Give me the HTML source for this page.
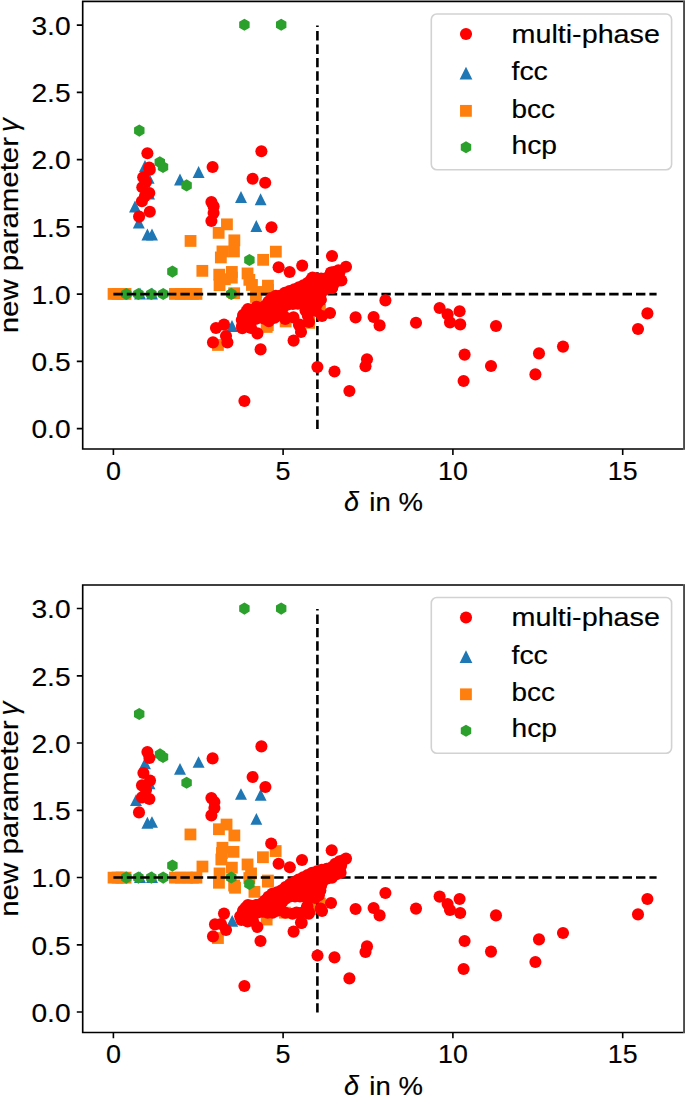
<!DOCTYPE html>
<html><head><meta charset="utf-8"><style>
html,body{margin:0;padding:0;background:#fff;}
svg{display:block;}
text{font-family:"Liberation Sans",sans-serif;font-size:26px;fill:#000;stroke:#000;stroke-width:0.15px;}
</style></head><body>
<svg width="685" height="1095" viewBox="0 0 685 1095">
<rect width="685" height="1095" fill="#fff"/>
<g transform="translate(0,0)">
<path d="M76.8,428.6H82.7M76.8,361.4H82.7M76.8,294.1H82.7M76.8,226.9H82.7M76.8,159.6H82.7M76.8,92.4H82.7M76.8,25.1H82.7M113.4,449.0V454.9M283.1,449.0V454.9M452.9,449.0V454.9M622.7,449.0V454.9" stroke="#000" stroke-width="1.6" fill="none"/>
<text x="70.6" y="438.3" text-anchor="end" font-size="27" textLength="39.2" lengthAdjust="spacingAndGlyphs">0.0</text>
<text x="70.6" y="371.1" text-anchor="end" font-size="27" textLength="39.2" lengthAdjust="spacingAndGlyphs">0.5</text>
<text x="70.6" y="303.8" text-anchor="end" font-size="27" textLength="39.2" lengthAdjust="spacingAndGlyphs">1.0</text>
<text x="70.6" y="236.6" text-anchor="end" font-size="27" textLength="39.2" lengthAdjust="spacingAndGlyphs">1.5</text>
<text x="70.6" y="169.3" text-anchor="end" font-size="27" textLength="39.2" lengthAdjust="spacingAndGlyphs">2.0</text>
<text x="70.6" y="102.1" text-anchor="end" font-size="27" textLength="39.2" lengthAdjust="spacingAndGlyphs">2.5</text>
<text x="70.6" y="34.8" text-anchor="end" font-size="27" textLength="39.2" lengthAdjust="spacingAndGlyphs">3.0</text>
<text x="105.9" y="479.7" font-size="27" textLength="15.0" lengthAdjust="spacingAndGlyphs">0</text>
<text x="275.6" y="479.7" font-size="27" textLength="15.0" lengthAdjust="spacingAndGlyphs">5</text>
<text x="438.0" y="479.7" font-size="27" textLength="29.8" lengthAdjust="spacingAndGlyphs">10</text>
<text x="607.8" y="479.7" font-size="27" textLength="29.8" lengthAdjust="spacingAndGlyphs">15</text>
<text x="344.0" y="511.3"><tspan font-style="italic" font-size="27">δ</tspan><tspan dx="2.7" textLength="61.2" lengthAdjust="spacingAndGlyphs"> in %</tspan></text>
<text transform="translate(17.8,333.3) rotate(-90)" x="0" y="0"><tspan textLength="204.5" lengthAdjust="spacingAndGlyphs">new parameter </tspan><tspan font-style="italic" font-size="27.5" dx="-3.2">γ</tspan></text>
</g>
<g transform="translate(0,0)">
<g fill="#1f77b4" stroke="#1f77b4" stroke-width="1.7" stroke-linejoin="miter"><path d="M145.0,161.9L140.4,171.1L149.6,171.1Z"/><path d="M148.7,173.8L144.1,182.9L153.2,182.9Z"/><path d="M149.0,189.4L144.4,198.6L153.6,198.6Z"/><path d="M135.0,202.4L130.4,211.6L139.6,211.6Z"/><path d="M138.8,218.4L134.2,227.6L143.4,227.6Z"/><path d="M147.4,230.4L142.8,239.6L152.0,239.6Z"/><path d="M152.0,230.4L147.4,239.6L156.6,239.6Z"/><path d="M180.0,175.4L175.4,184.6L184.6,184.6Z"/><path d="M198.6,167.9L194.0,177.1L203.2,177.1Z"/><path d="M241.0,192.9L236.4,202.1L245.6,202.1Z"/><path d="M260.6,195.2L256.1,204.4L265.2,204.4Z"/><path d="M256.3,221.9L251.8,231.1L260.9,231.1Z"/><path d="M232.0,321.9L227.4,331.1L236.6,331.1Z"/><path d="M140.0,289.4L135.4,298.6L144.6,298.6Z"/><path d="M152.0,289.4L147.4,298.6L156.6,298.6Z"/></g>
<g fill="#ff7f0e" stroke="#ff7f0e" stroke-width="1.7"><rect x="108.5" y="288.9" width="10.1" height="10.1"/><rect x="112.5" y="288.9" width="10.1" height="10.1"/><rect x="116.5" y="288.9" width="10.1" height="10.1"/><rect x="120.5" y="288.9" width="10.1" height="10.1"/><rect x="169.9" y="288.9" width="10.1" height="10.1"/><rect x="175.9" y="288.9" width="10.1" height="10.1"/><rect x="181.9" y="288.9" width="10.1" height="10.1"/><rect x="187.9" y="288.9" width="10.1" height="10.1"/><rect x="191.4" y="288.9" width="10.1" height="10.1"/><rect x="185.5" y="235.9" width="10.1" height="10.1"/><rect x="197.3" y="265.8" width="10.1" height="10.1"/><rect x="221.9" y="219.3" width="10.1" height="10.1"/><rect x="213.6" y="227.8" width="10.1" height="10.1"/><rect x="229.3" y="235.3" width="10.1" height="10.1"/><rect x="217.4" y="246.4" width="10.1" height="10.1"/><rect x="228.9" y="246.4" width="10.1" height="10.1"/><rect x="215.8" y="252.4" width="10.1" height="10.1"/><rect x="258.1" y="254.8" width="10.1" height="10.1"/><rect x="270.8" y="246.6" width="10.1" height="10.1"/><rect x="214.2" y="269.6" width="10.1" height="10.1"/><rect x="226.8" y="266.9" width="10.1" height="10.1"/><rect x="214.5" y="280.1" width="10.1" height="10.1"/><rect x="219.8" y="274.2" width="10.1" height="10.1"/><rect x="226.8" y="272.6" width="10.1" height="10.1"/><rect x="242.5" y="268.4" width="10.1" height="10.1"/><rect x="244.3" y="274.8" width="10.1" height="10.1"/><rect x="246.9" y="279.9" width="10.1" height="10.1"/><rect x="251.3" y="286.9" width="10.1" height="10.1"/><rect x="262.9" y="280.6" width="10.1" height="10.1"/><rect x="262.9" y="284.9" width="10.1" height="10.1"/><rect x="229.1" y="288.2" width="10.1" height="10.1"/><rect x="212.9" y="339.9" width="10.1" height="10.1"/><rect x="261.6" y="321.9" width="10.1" height="10.1"/><rect x="280.6" y="316.4" width="10.1" height="10.1"/><rect x="304.1" y="317.8" width="10.1" height="10.1"/><rect x="314.9" y="304.9" width="10.1" height="10.1"/><rect x="262.8" y="320.1" width="10.1" height="10.1"/><rect x="250.9" y="291.9" width="10.1" height="10.1"/></g>
<g fill="#2ca02c" stroke="#2ca02c" stroke-width="1.7"><polygon points="139.30,125.55 134.93,128.07 134.93,133.12 139.30,135.65 143.67,133.12 143.67,128.07"/><polygon points="244.40,19.75 240.03,22.28 240.03,27.33 244.40,29.85 248.77,27.33 248.77,22.28"/><polygon points="281.20,19.75 276.83,22.28 276.83,27.33 281.20,29.85 285.57,27.33 285.57,22.28"/><polygon points="159.80,157.15 155.43,159.67 155.43,164.72 159.80,167.25 164.17,164.72 164.17,159.67"/><polygon points="163.00,161.95 158.63,164.47 158.63,169.53 163.00,172.05 167.37,169.53 167.37,164.47"/><polygon points="186.60,180.35 182.23,182.88 182.23,187.93 186.60,190.45 190.97,187.93 190.97,182.88"/><polygon points="172.40,266.55 168.03,269.08 168.03,274.12 172.40,276.65 176.77,274.12 176.77,269.08"/><polygon points="249.40,254.95 245.03,257.48 245.03,262.52 249.40,265.05 253.77,262.52 253.77,257.48"/><polygon points="231.30,288.85 226.93,291.38 226.93,296.42 231.30,298.95 235.67,296.42 235.67,291.38"/><polygon points="126.30,288.95 121.93,291.48 121.93,296.52 126.30,299.05 130.67,296.52 130.67,291.48"/><polygon points="138.40,288.95 134.03,291.48 134.03,296.52 138.40,299.05 142.77,296.52 142.77,291.48"/><polygon points="151.30,288.95 146.93,291.48 146.93,296.52 151.30,299.05 155.67,296.52 155.67,291.48"/><polygon points="163.20,288.95 158.83,291.48 158.83,296.52 163.20,299.05 167.57,296.52 167.57,291.48"/></g>
</g>
<g transform="translate(0,0)" stroke="#000" stroke-width="2.6" fill="none" stroke-dasharray="9.4 4.0">
<path d="M113.4,294.1H656.6"/>
<path d="M317.4,429.1V25.6"/>
</g>
<g transform="translate(0,0)" fill="#ff0000">
<polygon points="241.8,320.0 242.7,322.7 245.9,325.2 247.8,326.1 250.3,322.1 250.7,321.6 251.0,321.2 251.5,320.8 251.9,320.4 252.4,320.1 253.0,319.9 258.0,317.9 258.5,317.7 259.0,317.6 259.6,317.5 260.1,317.5 260.7,317.5 261.2,317.6 261.7,317.8 266.9,319.5 271.5,319.5 277.2,316.3 280.5,314.3 282.9,308.1 283.1,307.6 283.3,307.1 283.6,306.6 284.0,306.2 284.4,305.8 284.8,305.5 285.3,305.2 285.8,305.0 286.3,304.8 286.8,304.6 287.4,304.5 293.4,303.8 294.0,303.8 302.0,303.8 302.5,303.8 309.9,304.5 316.2,303.7 320.3,301.4 320.7,300.3 320.3,296.5 320.3,296.0 320.3,295.5 320.4,295.0 320.5,294.5 320.7,294.0 320.9,293.5 321.2,293.0 321.5,292.6 321.8,292.2 323.8,290.1 324.2,289.7 324.7,289.4 325.1,289.1 325.6,288.8 326.2,288.7 326.7,288.5 327.2,288.4 327.8,288.4 331.1,288.4 332.1,287.6 332.7,285.5 332.8,285.0 333.0,284.5 333.2,284.1 333.5,283.6 333.8,283.2 334.2,282.8 334.6,282.5 335.0,282.2 335.4,281.9 335.9,281.7 339.4,280.3 339.8,279.7 338.9,275.8 338.8,275.3 338.7,274.7 338.7,274.2 338.8,273.7 338.9,273.2 339.0,272.6 339.2,272.1 339.5,271.7 339.8,271.2 340.1,270.8 340.5,270.4 340.9,270.1 341.2,269.9 336.7,270.6 332.2,272.8 328.8,276.7 328.4,277.0 328.1,277.4 327.6,277.7 327.2,277.9 326.7,278.1 326.2,278.3 325.7,278.4 325.2,278.5 324.7,278.5 318.6,278.5 318.2,278.5 313.6,278.1 311.6,279.0 308.2,282.5 307.8,282.9 307.3,283.2 306.8,283.5 298.6,287.6 298.1,287.8 291.3,290.4 291.1,290.5 285.7,292.3 282.2,294.8 281.8,295.2 281.2,295.4 280.7,295.6 280.1,295.8 279.6,295.9 279.0,295.9 275.1,295.9 272.2,297.1 269.0,301.0 265.0,306.1 264.7,306.5 264.3,306.9 263.8,307.2 263.4,307.5 262.9,307.8 262.3,308.0 261.8,308.1 261.3,308.2 260.7,308.2 256.3,308.2 250.2,309.9 245.1,312.1 243.3,315.2 241.8,320.0"/>
<circle cx="241.8" cy="320.0" r="6.05"/>
<circle cx="244.3" cy="324.0" r="6.05"/>
<circle cx="248.3" cy="325.3" r="6.05"/>
<circle cx="251.1" cy="321.1" r="6.05"/>
<circle cx="255.5" cy="318.9" r="6.05"/>
<circle cx="260.3" cy="317.5" r="6.05"/>
<circle cx="265.1" cy="318.9" r="6.05"/>
<circle cx="270.0" cy="319.5" r="6.05"/>
<circle cx="274.6" cy="317.8" r="6.05"/>
<circle cx="278.9" cy="315.2" r="6.05"/>
<circle cx="281.6" cy="311.3" r="6.05"/>
<circle cx="283.6" cy="306.7" r="6.05"/>
<circle cx="287.9" cy="304.5" r="6.05"/>
<circle cx="292.9" cy="303.9" r="6.05"/>
<circle cx="297.9" cy="303.8" r="6.05"/>
<circle cx="302.9" cy="303.9" r="6.05"/>
<circle cx="307.9" cy="304.3" r="6.05"/>
<circle cx="312.9" cy="304.1" r="6.05"/>
<circle cx="317.7" cy="302.9" r="6.05"/>
<circle cx="320.6" cy="299.4" r="6.05"/>
<circle cx="320.5" cy="294.5" r="6.05"/>
<circle cx="323.5" cy="290.5" r="6.05"/>
<circle cx="327.9" cy="288.4" r="6.05"/>
<circle cx="332.3" cy="287.2" r="6.05"/>
<circle cx="334.3" cy="282.7" r="6.05"/>
<circle cx="338.8" cy="280.5" r="6.05"/>
<circle cx="338.9" cy="276.1" r="6.05"/>
<circle cx="339.7" cy="271.3" r="6.05"/>
<circle cx="338.4" cy="270.3" r="6.05"/>
<circle cx="333.7" cy="272.1" r="6.05"/>
<circle cx="330.0" cy="275.3" r="6.05"/>
<circle cx="326.1" cy="278.3" r="6.05"/>
<circle cx="321.1" cy="278.5" r="6.05"/>
<circle cx="316.1" cy="278.3" r="6.05"/>
<circle cx="311.4" cy="279.3" r="6.05"/>
<circle cx="307.8" cy="282.8" r="6.05"/>
<circle cx="303.4" cy="285.2" r="6.05"/>
<circle cx="298.9" cy="287.4" r="6.05"/>
<circle cx="294.3" cy="289.3" r="6.05"/>
<circle cx="289.5" cy="291.0" r="6.05"/>
<circle cx="284.9" cy="292.9" r="6.05"/>
<circle cx="280.7" cy="295.6" r="6.05"/>
<circle cx="275.8" cy="295.9" r="6.05"/>
<circle cx="271.4" cy="298.0" r="6.05"/>
<circle cx="268.3" cy="301.9" r="6.05"/>
<circle cx="265.2" cy="305.9" r="6.05"/>
<circle cx="260.9" cy="308.2" r="6.05"/>
<circle cx="255.9" cy="308.3" r="6.05"/>
<circle cx="251.1" cy="309.7" r="6.05"/>
<circle cx="246.4" cy="311.5" r="6.05"/>
<circle cx="243.3" cy="315.2" r="6.05"/>
<circle cx="147.4" cy="153.3" r="6.05"/><circle cx="149.2" cy="167.6" r="6.05"/><circle cx="149.8" cy="169.8" r="6.05"/><circle cx="143.2" cy="177.2" r="6.05"/><circle cx="142.3" cy="187.3" r="6.05"/><circle cx="149.3" cy="193.0" r="6.05"/><circle cx="141.9" cy="201.3" r="6.05"/><circle cx="149.8" cy="211.8" r="6.05"/><circle cx="139.1" cy="216.6" r="6.05"/><circle cx="146.0" cy="182.0" r="6.05"/><circle cx="145.0" cy="196.0" r="6.05"/><circle cx="212.6" cy="167.0" r="6.05"/><circle cx="211.4" cy="202.0" r="6.05"/><circle cx="213.6" cy="206.4" r="6.05"/><circle cx="213.6" cy="213.0" r="6.05"/><circle cx="211.4" cy="221.0" r="6.05"/><circle cx="261.4" cy="151.2" r="6.05"/><circle cx="252.6" cy="178.8" r="6.05"/><circle cx="265.2" cy="182.8" r="6.05"/><circle cx="271.5" cy="227.3" r="6.05"/><circle cx="278.6" cy="267.3" r="6.05"/><circle cx="289.6" cy="272.0" r="6.05"/><circle cx="302.2" cy="265.6" r="6.05"/><circle cx="332.0" cy="256.0" r="6.05"/><circle cx="346.0" cy="266.8" r="6.05"/><circle cx="341.4" cy="280.5" r="6.05"/><circle cx="332.0" cy="288.1" r="6.05"/><circle cx="312.5" cy="277.6" r="6.05"/><circle cx="330.9" cy="272.5" r="6.05"/><circle cx="320.7" cy="300.0" r="6.05"/><circle cx="216.0" cy="328.0" r="6.05"/><circle cx="224.0" cy="324.6" r="6.05"/><circle cx="226.0" cy="336.0" r="6.05"/><circle cx="227.4" cy="342.4" r="6.05"/><circle cx="213.0" cy="342.4" r="6.05"/><circle cx="242.0" cy="326.0" r="6.05"/><circle cx="244.0" cy="315.0" r="6.05"/><circle cx="248.0" cy="309.0" r="6.05"/><circle cx="251.0" cy="328.0" r="6.05"/><circle cx="257.4" cy="333.4" r="6.05"/><circle cx="260.6" cy="349.4" r="6.05"/><circle cx="242.3" cy="328.2" r="6.05"/><circle cx="250.4" cy="327.2" r="6.05"/><circle cx="268.8" cy="321.1" r="6.05"/><circle cx="247.9" cy="310.4" r="6.05"/><circle cx="256.6" cy="306.8" r="6.05"/><circle cx="243.3" cy="315.0" r="6.05"/><circle cx="293.6" cy="340.6" r="6.05"/><circle cx="301.0" cy="332.0" r="6.05"/><circle cx="299.0" cy="325.0" r="6.05"/><circle cx="309.0" cy="322.0" r="6.05"/><circle cx="322.0" cy="316.0" r="6.05"/><circle cx="330.0" cy="313.0" r="6.05"/><circle cx="317.4" cy="367.0" r="6.05"/><circle cx="285.3" cy="317.4" r="6.05"/><circle cx="293.5" cy="317.4" r="6.05"/><circle cx="305.5" cy="310.5" r="6.05"/><circle cx="311.0" cy="309.5" r="6.05"/><circle cx="316.0" cy="311.0" r="6.05"/><circle cx="299.6" cy="324.6" r="6.05"/><circle cx="307.8" cy="315.4" r="6.05"/><circle cx="285.2" cy="319.0" r="6.05"/><circle cx="385.4" cy="300.4" r="6.05"/><circle cx="355.6" cy="317.4" r="6.05"/><circle cx="373.6" cy="317.0" r="6.05"/><circle cx="379.6" cy="325.4" r="6.05"/><circle cx="416.0" cy="322.8" r="6.05"/><circle cx="439.6" cy="308.0" r="6.05"/><circle cx="447.6" cy="314.4" r="6.05"/><circle cx="450.0" cy="322.4" r="6.05"/><circle cx="459.6" cy="311.2" r="6.05"/><circle cx="460.2" cy="324.4" r="6.05"/><circle cx="367.0" cy="359.2" r="6.05"/><circle cx="365.5" cy="366.2" r="6.05"/><circle cx="334.5" cy="371.5" r="6.05"/><circle cx="464.6" cy="354.6" r="6.05"/><circle cx="463.6" cy="381.0" r="6.05"/><circle cx="496.0" cy="326.0" r="6.05"/><circle cx="491.0" cy="366.0" r="6.05"/><circle cx="539.0" cy="353.4" r="6.05"/><circle cx="563.0" cy="346.6" r="6.05"/><circle cx="535.4" cy="374.4" r="6.05"/><circle cx="638.0" cy="329.0" r="6.05"/><circle cx="647.4" cy="313.4" r="6.05"/><circle cx="349.4" cy="391.0" r="6.05"/><circle cx="244.4" cy="401.0" r="6.05"/>
</g>
<path d="M82.7,1.50H683.3M82.7,0.70V449.80M81.90,449.00H683.3" fill="none" stroke="#000" stroke-width="1.65"/><rect x="683.1" y="0.70" width="2" height="449.10" fill="#4a4a4a"/><rect x="82" y="0" width="603" height="0.8" fill="#808080"/>
<g transform="translate(0,0)">
<rect x="431.3" y="14.0" width="240.3" height="155.8" rx="5.5" fill="#fff" fill-opacity="0.8" stroke="#d2d2d2" stroke-width="1.6"/>
<g fill="#ff0000"><circle cx="466.0" cy="34.0" r="6.05"/></g>
<g fill="#1f77b4" stroke="#1f77b4" stroke-width="1.7"><path d="M466.0,68.7L461.0,78.7L471.0,78.7Z"/></g>
<g fill="#ff7f0e" stroke="#ff7f0e" stroke-width="1.7"><rect x="460.9" y="105.8" width="10.1" height="10.1"/></g>
<g fill="#2ca02c" stroke="#2ca02c" stroke-width="1.7"><polygon points="466.00,142.25 461.63,144.78 461.63,149.83 466.00,152.35 470.37,149.83 470.37,144.78"/></g>
<text x="511.5" y="42.9" textLength="148.4" lengthAdjust="spacingAndGlyphs">multi-phase</text>
<text x="511.5" y="80.4" textLength="36.3" lengthAdjust="spacingAndGlyphs">fcc</text>
<text x="511.5" y="117.6" textLength="43.4" lengthAdjust="spacingAndGlyphs">bcc</text>
<text x="511.5" y="154.0" textLength="45.5" lengthAdjust="spacingAndGlyphs">hcp</text>
</g>
<g transform="translate(0,583.45)">
<path d="M76.8,428.6H82.7M76.8,361.4H82.7M76.8,294.1H82.7M76.8,226.9H82.7M76.8,159.6H82.7M76.8,92.4H82.7M76.8,25.1H82.7M113.4,449.0V454.9M283.1,449.0V454.9M452.9,449.0V454.9M622.7,449.0V454.9" stroke="#000" stroke-width="1.6" fill="none"/>
<text x="70.6" y="438.3" text-anchor="end" font-size="27" textLength="39.2" lengthAdjust="spacingAndGlyphs">0.0</text>
<text x="70.6" y="371.1" text-anchor="end" font-size="27" textLength="39.2" lengthAdjust="spacingAndGlyphs">0.5</text>
<text x="70.6" y="303.8" text-anchor="end" font-size="27" textLength="39.2" lengthAdjust="spacingAndGlyphs">1.0</text>
<text x="70.6" y="236.6" text-anchor="end" font-size="27" textLength="39.2" lengthAdjust="spacingAndGlyphs">1.5</text>
<text x="70.6" y="169.3" text-anchor="end" font-size="27" textLength="39.2" lengthAdjust="spacingAndGlyphs">2.0</text>
<text x="70.6" y="102.1" text-anchor="end" font-size="27" textLength="39.2" lengthAdjust="spacingAndGlyphs">2.5</text>
<text x="70.6" y="34.8" text-anchor="end" font-size="27" textLength="39.2" lengthAdjust="spacingAndGlyphs">3.0</text>
<text x="105.9" y="479.7" font-size="27" textLength="15.0" lengthAdjust="spacingAndGlyphs">0</text>
<text x="275.6" y="479.7" font-size="27" textLength="15.0" lengthAdjust="spacingAndGlyphs">5</text>
<text x="438.0" y="479.7" font-size="27" textLength="29.8" lengthAdjust="spacingAndGlyphs">10</text>
<text x="607.8" y="479.7" font-size="27" textLength="29.8" lengthAdjust="spacingAndGlyphs">15</text>
<text x="344.0" y="511.3"><tspan font-style="italic" font-size="27">δ</tspan><tspan dx="2.7" textLength="61.2" lengthAdjust="spacingAndGlyphs"> in %</tspan></text>
<text transform="translate(17.8,333.3) rotate(-90)" x="0" y="0"><tspan textLength="204.5" lengthAdjust="spacingAndGlyphs">new parameter </tspan><tspan font-style="italic" font-size="27.5" dx="-3.2">γ</tspan></text>
</g>
<g transform="translate(0,0)">
<g fill="#1f77b4" stroke="#1f77b4" stroke-width="1.7" stroke-linejoin="miter"><path d="M145.0,759.5L140.4,768.5L149.6,768.5Z"/><path d="M149.5,779.5L144.9,788.5L154.1,788.5Z"/><path d="M136.0,796.2L131.4,805.2L140.6,805.2Z"/><path d="M147.4,818.7L142.8,827.8L152.0,827.8Z"/><path d="M152.0,818.0L147.4,827.0L156.6,827.0Z"/><path d="M180.0,764.8L175.4,773.8L184.6,773.8Z"/><path d="M198.6,758.0L194.0,767.0L203.2,767.0Z"/><path d="M241.0,790.0L236.4,799.0L245.6,799.0Z"/><path d="M260.6,791.0L256.1,800.0L265.2,800.0Z"/><path d="M256.4,814.8L251.8,823.8L260.9,823.8Z"/><path d="M232.2,916.8L227.6,925.8L236.8,925.8Z"/><path d="M140.0,873.1L135.4,882.1L144.6,882.1Z"/><path d="M152.0,873.1L147.4,882.1L156.6,882.1Z"/></g>
<g fill="#ff7f0e" stroke="#ff7f0e" stroke-width="1.7"><rect x="108.5" y="872.6" width="10.1" height="10.1"/><rect x="112.5" y="872.6" width="10.1" height="10.1"/><rect x="116.5" y="872.6" width="10.1" height="10.1"/><rect x="120.5" y="872.6" width="10.1" height="10.1"/><rect x="169.9" y="872.6" width="10.1" height="10.1"/><rect x="175.9" y="872.6" width="10.1" height="10.1"/><rect x="181.9" y="872.6" width="10.1" height="10.1"/><rect x="187.9" y="872.6" width="10.1" height="10.1"/><rect x="191.4" y="872.6" width="10.1" height="10.1"/><rect x="185.4" y="829.4" width="10.1" height="10.1"/><rect x="197.4" y="861.5" width="10.1" height="10.1"/><rect x="221.5" y="819.5" width="10.1" height="10.1"/><rect x="213.9" y="824.2" width="10.1" height="10.1"/><rect x="229.3" y="830.4" width="10.1" height="10.1"/><rect x="217.4" y="842.7" width="10.1" height="10.1"/><rect x="228.5" y="846.8" width="10.1" height="10.1"/><rect x="216.3" y="854.4" width="10.1" height="10.1"/><rect x="216.9" y="848.0" width="10.1" height="10.1"/><rect x="242.5" y="859.4" width="10.1" height="10.1"/><rect x="257.9" y="852.2" width="10.1" height="10.1"/><rect x="270.6" y="846.0" width="10.1" height="10.1"/><rect x="214.5" y="868.4" width="10.1" height="10.1"/><rect x="226.8" y="862.6" width="10.1" height="10.1"/><rect x="213.9" y="877.7" width="10.1" height="10.1"/><rect x="229.1" y="880.5" width="10.1" height="10.1"/><rect x="244.3" y="873.0" width="10.1" height="10.1"/><rect x="246.0" y="868.4" width="10.1" height="10.1"/><rect x="262.9" y="876.6" width="10.1" height="10.1"/><rect x="230.0" y="882.7" width="10.1" height="10.1"/><rect x="249.4" y="886.8" width="10.1" height="10.1"/><rect x="262.8" y="875.5" width="10.1" height="10.1"/><rect x="261.6" y="914.5" width="10.1" height="10.1"/><rect x="279.9" y="907.6" width="10.1" height="10.1"/><rect x="309.6" y="904.0" width="10.1" height="10.1"/><rect x="314.9" y="898.7" width="10.1" height="10.1"/><rect x="212.9" y="933.0" width="10.1" height="10.1"/></g>
<g fill="#2ca02c" stroke="#2ca02c" stroke-width="1.7"><polygon points="139.20,708.95 134.83,711.48 134.83,716.52 139.20,719.05 143.57,716.52 143.57,711.48"/><polygon points="244.40,603.55 240.03,606.08 240.03,611.12 244.40,613.65 248.77,611.12 248.77,606.08"/><polygon points="281.20,603.55 276.83,606.08 276.83,611.12 281.20,613.65 285.57,611.12 285.57,606.08"/><polygon points="160.00,749.35 155.63,751.88 155.63,756.92 160.00,759.45 164.37,756.92 164.37,751.88"/><polygon points="163.00,751.95 158.63,754.48 158.63,759.52 163.00,762.05 167.37,759.52 167.37,754.48"/><polygon points="186.60,777.75 182.23,780.27 182.23,785.32 186.60,787.85 190.97,785.32 190.97,780.27"/><polygon points="172.40,860.55 168.03,863.08 168.03,868.12 172.40,870.65 176.77,868.12 176.77,863.08"/><polygon points="231.30,872.45 226.93,874.98 226.93,880.02 231.30,882.55 235.67,880.02 235.67,874.98"/><polygon points="249.40,878.95 245.03,881.48 245.03,886.52 249.40,889.05 253.77,886.52 253.77,881.48"/><polygon points="126.30,872.55 121.93,875.08 121.93,880.12 126.30,882.65 130.67,880.12 130.67,875.08"/><polygon points="138.40,872.55 134.03,875.08 134.03,880.12 138.40,882.65 142.77,880.12 142.77,875.08"/><polygon points="151.30,872.55 146.93,875.08 146.93,880.12 151.30,882.65 155.67,880.12 155.67,875.08"/><polygon points="163.20,872.55 158.83,875.08 158.83,880.12 163.20,882.65 167.57,880.12 167.57,875.08"/></g>
</g>
<g transform="translate(0,583.45)" stroke="#000" stroke-width="2.6" fill="none" stroke-dasharray="9.4 4.0">
<path d="M113.4,294.1H656.6"/>
<path d="M317.4,429.1V25.6"/>
</g>
<g transform="translate(0,0)" fill="#ff0000">
<polygon points="243.0,910.9 244.5,911.0 245.1,911.1 245.7,911.3 250.9,913.0 255.8,913.0 260.1,911.7 260.7,911.6 261.2,911.5 261.8,911.5 262.3,911.5 262.8,911.6 269.2,913.0 273.5,912.6 278.6,910.0 280.9,904.1 281.1,903.5 281.4,903.0 281.7,902.5 282.1,902.1 286.1,898.1 286.5,897.7 286.9,897.4 287.4,897.1 287.9,896.9 288.4,896.7 288.9,896.6 289.5,896.5 290.0,896.5 302.0,896.5 302.5,896.5 302.9,896.6 310.9,897.9 316.3,897.9 317.8,897.1 319.5,894.2 320.4,890.1 321.4,884.1 321.5,883.6 321.6,883.1 321.8,882.6 322.1,882.2 322.4,881.8 322.7,881.4 323.0,881.0 323.4,880.7 323.8,880.4 324.3,880.1 328.4,878.0 328.9,877.8 333.5,876.0 337.4,873.6 340.1,870.3 341.8,862.3 342.0,861.8 342.2,861.3 342.4,860.8 342.7,860.3 343.1,859.8 343.1,859.8 341.0,860.4 336.2,862.9 332.7,866.4 332.3,866.7 331.9,867.0 331.5,867.3 331.1,867.5 330.6,867.7 330.1,867.8 324.0,869.3 318.1,870.8 312.5,872.7 306.8,875.6 306.7,875.6 298.7,879.6 294.1,882.3 293.7,882.4 288.1,885.2 284.4,888.0 280.3,891.1 279.9,891.4 279.5,891.6 279.0,891.8 278.5,892.0 278.1,892.1 273.7,893.0 271.1,894.2 266.6,898.8 266.5,898.8 262.4,902.8 262.1,903.2 261.6,903.5 261.2,903.7 260.7,904.0 260.3,904.1 259.8,904.3 254.7,905.4 254.4,905.4 248.9,906.3 245.7,907.6 243.0,910.9"/>
<circle cx="243.0" cy="910.9" r="6.05"/>
<circle cx="247.9" cy="912.0" r="6.05"/>
<circle cx="252.8" cy="913.0" r="6.05"/>
<circle cx="257.8" cy="912.4" r="6.05"/>
<circle cx="262.7" cy="911.6" r="6.05"/>
<circle cx="267.6" cy="912.6" r="6.05"/>
<circle cx="272.6" cy="912.7" r="6.05"/>
<circle cx="277.2" cy="910.7" r="6.05"/>
<circle cx="279.8" cy="906.8" r="6.05"/>
<circle cx="282.0" cy="902.2" r="6.05"/>
<circle cx="285.6" cy="898.7" r="6.05"/>
<circle cx="289.9" cy="896.5" r="6.05"/>
<circle cx="295.0" cy="896.5" r="6.05"/>
<circle cx="300.0" cy="896.5" r="6.05"/>
<circle cx="305.0" cy="896.9" r="6.05"/>
<circle cx="310.0" cy="897.8" r="6.05"/>
<circle cx="315.1" cy="897.9" r="6.05"/>
<circle cx="318.9" cy="895.3" r="6.05"/>
<circle cx="320.3" cy="890.5" r="6.05"/>
<circle cx="321.1" cy="885.5" r="6.05"/>
<circle cx="323.1" cy="881.0" r="6.05"/>
<circle cx="327.4" cy="878.5" r="6.05"/>
<circle cx="332.1" cy="876.5" r="6.05"/>
<circle cx="336.5" cy="874.1" r="6.05"/>
<circle cx="339.9" cy="870.5" r="6.05"/>
<circle cx="341.1" cy="865.6" r="6.05"/>
<circle cx="342.4" cy="860.8" r="6.05"/>
<circle cx="339.5" cy="861.2" r="6.05"/>
<circle cx="335.3" cy="863.8" r="6.05"/>
<circle cx="331.6" cy="867.2" r="6.05"/>
<circle cx="326.7" cy="868.7" r="6.05"/>
<circle cx="321.8" cy="869.9" r="6.05"/>
<circle cx="317.0" cy="871.2" r="6.05"/>
<circle cx="312.2" cy="872.8" r="6.05"/>
<circle cx="307.7" cy="875.1" r="6.05"/>
<circle cx="303.2" cy="877.4" r="6.05"/>
<circle cx="298.6" cy="879.6" r="6.05"/>
<circle cx="294.3" cy="882.1" r="6.05"/>
<circle cx="289.8" cy="884.4" r="6.05"/>
<circle cx="285.6" cy="887.1" r="6.05"/>
<circle cx="281.5" cy="890.2" r="6.05"/>
<circle cx="277.0" cy="892.3" r="6.05"/>
<circle cx="272.2" cy="893.7" r="6.05"/>
<circle cx="268.4" cy="896.9" r="6.05"/>
<circle cx="264.9" cy="900.5" r="6.05"/>
<circle cx="261.1" cy="903.8" r="6.05"/>
<circle cx="256.2" cy="905.0" r="6.05"/>
<circle cx="251.2" cy="905.9" r="6.05"/>
<circle cx="246.4" cy="907.3" r="6.05"/>
<circle cx="147.4" cy="752.0" r="6.05"/><circle cx="149.4" cy="758.0" r="6.05"/><circle cx="143.4" cy="773.0" r="6.05"/><circle cx="150.0" cy="780.6" r="6.05"/><circle cx="142.0" cy="785.4" r="6.05"/><circle cx="146.0" cy="790.0" r="6.05"/><circle cx="142.0" cy="797.4" r="6.05"/><circle cx="149.4" cy="799.0" r="6.05"/><circle cx="139.0" cy="812.4" r="6.05"/><circle cx="212.6" cy="758.4" r="6.05"/><circle cx="211.4" cy="798.0" r="6.05"/><circle cx="214.4" cy="802.0" r="6.05"/><circle cx="214.4" cy="808.0" r="6.05"/><circle cx="211.4" cy="815.4" r="6.05"/><circle cx="261.4" cy="746.4" r="6.05"/><circle cx="252.6" cy="777.0" r="6.05"/><circle cx="265.4" cy="787.0" r="6.05"/><circle cx="271.2" cy="843.5" r="6.05"/><circle cx="278.6" cy="863.7" r="6.05"/><circle cx="289.8" cy="867.2" r="6.05"/><circle cx="302.0" cy="860.0" r="6.05"/><circle cx="331.7" cy="850.2" r="6.05"/><circle cx="346.0" cy="858.6" r="6.05"/><circle cx="340.6" cy="872.7" r="6.05"/><circle cx="331.9" cy="877.8" r="6.05"/><circle cx="224.0" cy="913.6" r="6.05"/><circle cx="215.0" cy="924.4" r="6.05"/><circle cx="221.0" cy="924.0" r="6.05"/><circle cx="226.0" cy="930.0" r="6.05"/><circle cx="213.0" cy="936.4" r="6.05"/><circle cx="241.4" cy="920.0" r="6.05"/><circle cx="247.5" cy="921.5" r="6.05"/><circle cx="244.0" cy="910.0" r="6.05"/><circle cx="248.0" cy="905.0" r="6.05"/><circle cx="253.0" cy="921.0" r="6.05"/><circle cx="257.4" cy="927.0" r="6.05"/><circle cx="260.5" cy="941.0" r="6.05"/><circle cx="245.3" cy="908.1" r="6.05"/><circle cx="240.2" cy="916.3" r="6.05"/><circle cx="293.6" cy="931.6" r="6.05"/><circle cx="301.0" cy="922.6" r="6.05"/><circle cx="309.0" cy="912.0" r="6.05"/><circle cx="322.0" cy="911.0" r="6.05"/><circle cx="331.0" cy="903.0" r="6.05"/><circle cx="307.4" cy="906.4" r="6.05"/><circle cx="320.7" cy="908.5" r="6.05"/><circle cx="285.3" cy="912.7" r="6.05"/><circle cx="292.5" cy="913.7" r="6.05"/><circle cx="296.5" cy="912.5" r="6.05"/><circle cx="300.5" cy="913.0" r="6.05"/><circle cx="308.8" cy="913.7" r="6.05"/><circle cx="306.8" cy="907.6" r="6.05"/><circle cx="301.7" cy="922.9" r="6.05"/><circle cx="317.5" cy="955.5" r="6.05"/><circle cx="334.5" cy="957.4" r="6.05"/><circle cx="349.4" cy="978.4" r="6.05"/><circle cx="367.0" cy="946.4" r="6.05"/><circle cx="365.5" cy="952.0" r="6.05"/><circle cx="244.4" cy="986.0" r="6.05"/><circle cx="385.4" cy="893.0" r="6.05"/><circle cx="355.6" cy="909.0" r="6.05"/><circle cx="373.6" cy="908.0" r="6.05"/><circle cx="379.6" cy="915.4" r="6.05"/><circle cx="416.0" cy="908.6" r="6.05"/><circle cx="439.6" cy="896.6" r="6.05"/><circle cx="447.6" cy="904.0" r="6.05"/><circle cx="450.0" cy="910.0" r="6.05"/><circle cx="459.6" cy="899.0" r="6.05"/><circle cx="460.2" cy="913.0" r="6.05"/><circle cx="464.6" cy="941.0" r="6.05"/><circle cx="463.6" cy="969.0" r="6.05"/><circle cx="496.0" cy="915.4" r="6.05"/><circle cx="491.0" cy="951.6" r="6.05"/><circle cx="539.0" cy="939.4" r="6.05"/><circle cx="563.0" cy="933.0" r="6.05"/><circle cx="535.4" cy="962.0" r="6.05"/><circle cx="638.0" cy="914.4" r="6.05"/><circle cx="647.4" cy="899.0" r="6.05"/>
</g>
<path d="M82.7,584.95H683.3M82.7,584.15V1033.25M81.90,1032.45H683.3" fill="none" stroke="#000" stroke-width="1.65"/><rect x="683.1" y="584.15" width="2" height="449.10" fill="#4a4a4a"/>
<g transform="translate(0,583.45)">
<rect x="431.3" y="14.0" width="240.3" height="155.8" rx="5.5" fill="#fff" fill-opacity="0.8" stroke="#d2d2d2" stroke-width="1.6"/>
<g fill="#ff0000"><circle cx="466.0" cy="34.0" r="6.05"/></g>
<g fill="#1f77b4" stroke="#1f77b4" stroke-width="1.7"><path d="M466.0,68.7L461.0,78.7L471.0,78.7Z"/></g>
<g fill="#ff7f0e" stroke="#ff7f0e" stroke-width="1.7"><rect x="460.9" y="105.8" width="10.1" height="10.1"/></g>
<g fill="#2ca02c" stroke="#2ca02c" stroke-width="1.7"><polygon points="466.00,142.25 461.63,144.78 461.63,149.83 466.00,152.35 470.37,149.83 470.37,144.78"/></g>
<text x="511.5" y="42.9" textLength="148.4" lengthAdjust="spacingAndGlyphs">multi-phase</text>
<text x="511.5" y="80.4" textLength="36.3" lengthAdjust="spacingAndGlyphs">fcc</text>
<text x="511.5" y="117.6" textLength="43.4" lengthAdjust="spacingAndGlyphs">bcc</text>
<text x="511.5" y="154.0" textLength="45.5" lengthAdjust="spacingAndGlyphs">hcp</text>
</g>
</svg>
</body></html>
